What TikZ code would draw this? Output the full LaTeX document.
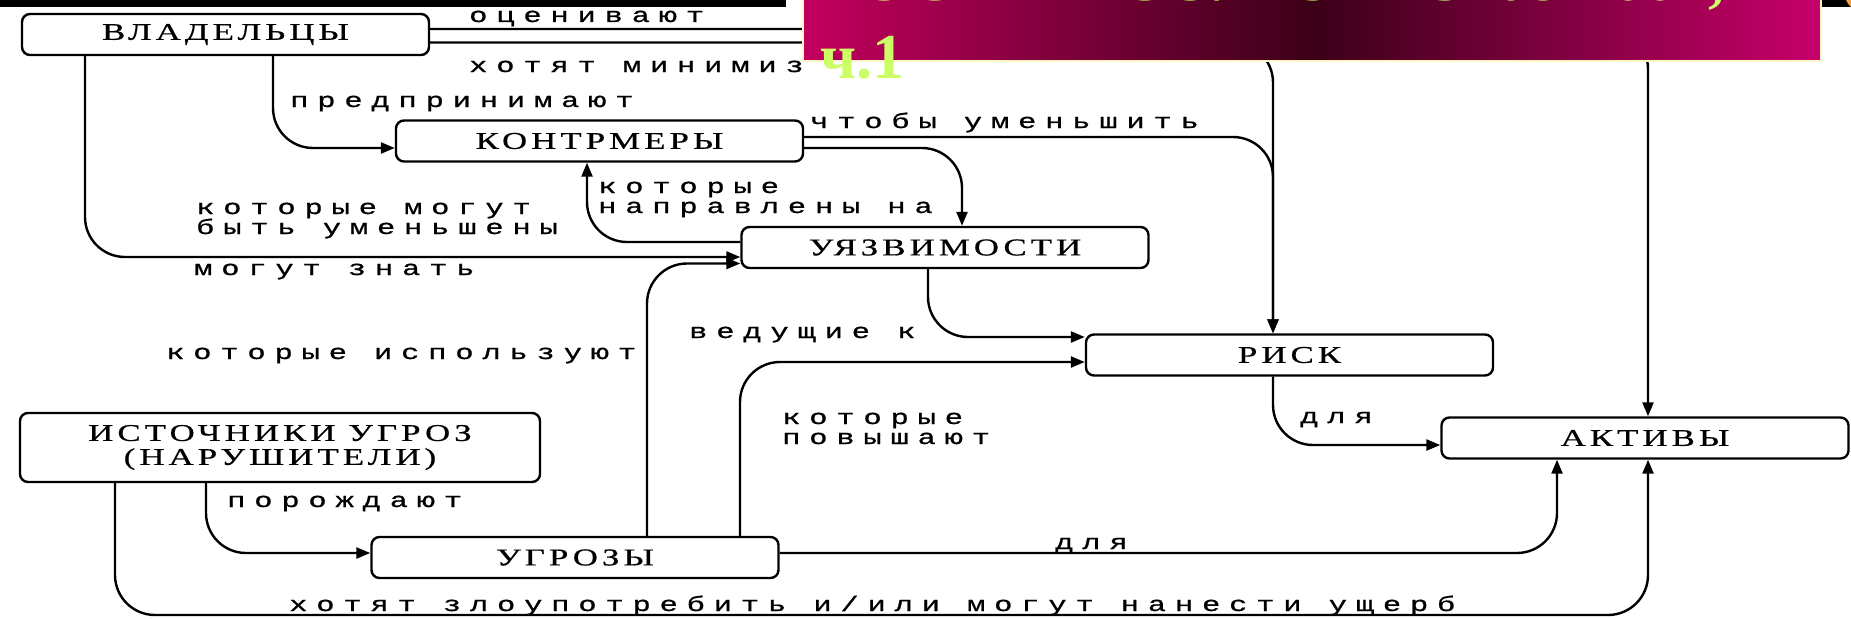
\documentclass[tikz,border=0pt]{standalone}
\usepackage{fontspec}
\usepackage{tikz}
\usetikzlibrary{arrows.meta,calc}
\newfontfamily\boxfont[FakeStretch=1.45,LetterSpace=17,FakeBold=0.6]{Liberation Serif}
\newfontfamily\lblfont[FakeStretch=1.45,LetterSpace=42,FakeBold=0.9]{Liberation Mono}
\newfontfamily\ttlfont{Liberation Serif}
\definecolor{ttlmag}{HTML}{C2005E}
\definecolor{ttlmagR}{HTML}{C8006A}
\definecolor{ttldark}{HTML}{3C0018}
\definecolor{ttlgreen}{HTML}{CCFF66}
\definecolor{ttlrim}{HTML}{FFF6C8}
\definecolor{cornerorange}{HTML}{F2A33A}

\begin{document}
\begin{tikzpicture}[x=1pt,y=-1pt,
    box/.style={draw, line width=2.4pt, rounded corners=8pt, minimum width=407pt,
                minimum height=41pt, inner sep=0pt, align=center,
                font=\boxfont\fontsize{24}{24}\selectfont},
    lbl/.style={anchor=base west, inner sep=0pt, align=left,
                font=\lblfont\fontsize{21}{20}\selectfont},
    arr/.style={line width=2.4pt, rounded corners=40pt, -{Triangle[length=14pt,width=11pt]}},
    ttltext/.style={anchor=base west, inner sep=0pt, align=left, text=ttlgreen,
                font=\ttlfont\bfseries\fontsize{64}{69}\selectfont}
  ]
  \useasboundingbox (0,0) rectangle (1851,618);
  \clip (0,0) rectangle (1851,618);
  \fill[white] (0,0) rectangle (1851,618);
  % ------------- Boxes -------------
  \node[box] (own)  at (225.5,34.5) {ВЛАДЕЛЬЦЫ};
  \node[box] (cm)   at (599.5,141)  {КОНТРМЕРЫ};
  \node[box] (vul)  at (945,247.5)  {УЯЗВИМОСТИ};
  \node[box] (risk) at (1289.5,355) {РИСК};
  \node[box] (ast)  at (1645,438)   {АКТИВЫ};
  \node[box, minimum width=520pt, minimum height=69pt] (src) at (280,447.5)
    {ИСТОЧНИКИ УГРОЗ\\(НАРУШИТЕЛИ)};
  \node[box] (thr)  at (575,557.5)  {УГРОЗЫ};
  \coordinate (astN) at ([xshift=3pt]ast.north);
  \coordinate (astS) at ([xshift=3pt]ast.south);
  \coordinate (base) at (0,615);
  % ------------- Connectors -------------
  \draw[arr] ([yshift=5.5pt]own.east) -| (astN);
  \draw[arr] ([yshift=-8pt]own.east) -| ([xshift=-16.5pt]risk.north);
  \draw[arr] ([xshift=47.5pt]own.south) |- ([yshift=-7pt]cm.west);
  \draw[arr] ([yshift=4pt]cm.east) -| ([xshift=-16.5pt]risk.north);
  \draw[arr] ([yshift=-7pt]cm.east) -| ([xshift=17pt]vul.north);
  \draw[arr] ([yshift=5.5pt]vul.west) -| ([xshift=-12.5pt]cm.south);
  \draw[arr] ([xshift=-140.5pt]own.south) |- ([yshift=-9.5pt]vul.west);
  \draw[arr] ([xshift=72pt]thr.north) |- ([yshift=-16pt]vul.west);
  \draw[arr] ([xshift=-17pt]vul.south) |- ([yshift=18pt]risk.west);
  \draw[arr] ([xshift=165pt]thr.north) |- ([yshift=-7pt]risk.west);
  \draw[arr] ([xshift=-16.5pt]risk.south) |- ([yshift=-7pt]ast.west);
  \draw[arr] ([xshift=-74pt]src.south) |- ([yshift=4.5pt]thr.west);
  \draw[arr] ([yshift=4.5pt]thr.east) -| ([xshift=-88pt]ast.south);
  \draw[arr] ([xshift=-165pt]src.south) |- (base -| astS) -- (astS);
  % ------------- Labels -------------
  \node[lbl] (l1)  at (469,22)   {оценивают};
  \node[lbl] (l2)  at (469,72)   {хотят минимиз};
  \node[lbl] (l3)  at (290,107)  {предпринимают};
  \node[lbl] (l4)  at (810,128)  {чтобы уменьшить};
  \node[lbl] (l5)  at (598,213)  {которые\\направлены на};
  \node[lbl] (l6)  at (196,234)  {которые могут\\быть уменьшены};
  \node[lbl] (l7)  at (194,275)  {могут знать};
  \node[lbl] (l8)  at (166,359)  {которые используют};
  \node[lbl] (l9)  at (689,338)  {ведущие к};
  \node[lbl] (l10) at (782,444)  {которые\\повышают};
  \node[lbl] (l11) at (1300,423) {для};
  \node[lbl] (l12) at (227,507)  {порождают};
  \node[lbl] (l13) at (1055,549) {для};
  \node[lbl] (l14) at (289,611)  {хотят злоупотребить и/или могут нанести ущерб};
  % ------------- Title strip -------------
  \fill[black] (0,0) rectangle (786,7);
  \fill[black] (1821,0) rectangle (1851,7);
  \fill[cornerorange] (1862,-6) circle (17);
  \shade[left color=ttlmag, right color=ttlmagR, middle color=ttldark]
    (803,-10) rectangle (1821,61);
  \draw[ttlrim, line width=1.6pt] (803,-10) rectangle (1821,61);
  \node[ttltext] (ttl) at (820,78) {ГОСТ Р ИСО/МЭК 15408-2002,\\[9pt]ч.1};
\end{tikzpicture}
\end{document}
